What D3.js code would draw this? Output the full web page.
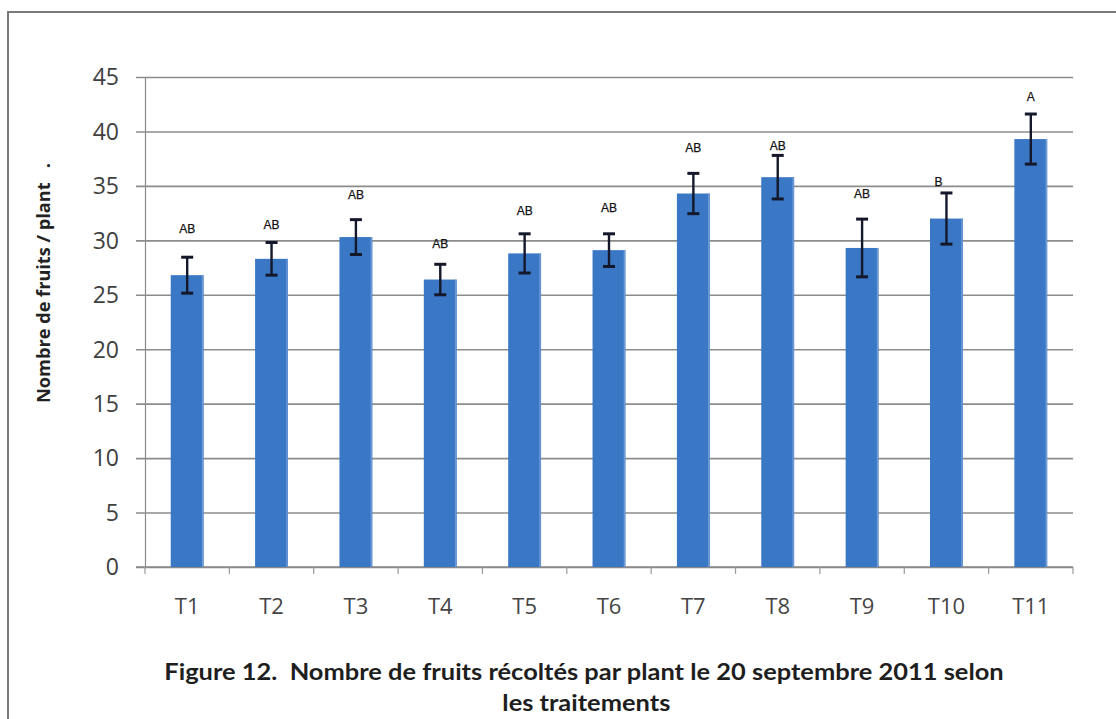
<!DOCTYPE html>
<html>
<head>
<meta charset="utf-8">
<script src="https://cdn.jsdelivr.net/npm/d3@7"></script>
<style>
  html, body { margin: 0; padding: 0; background: #fff; }
  svg { display: block; }
</style>
</head>
<body>
<svg id="chart" width="1116" height="719"></svg>
<script>
// ---- data ----
const categories = ["T1","T2","T3","T4","T5","T6","T7","T8","T9","T10","T11"];
const means      = [26.8, 28.3, 30.3, 26.4, 28.8, 29.1, 34.3, 35.8, 29.3, 32.0, 39.3];
const errors     = [1.65, 1.5, 1.6, 1.4, 1.8, 1.5, 1.85, 2.0, 2.65, 2.35, 2.3];
const letters    = ["AB","AB","AB","AB","AB","AB","AB","AB","AB","B","A"];
const letterPos  = [31.1, 31.4, 34.2, 29.7, 32.7, 33.0, 38.5, 38.7, 34.3, 35.4, 43.2];
const yTicks     = [0, 5, 10, 15, 20, 25, 30, 35, 40, 45];
const yTitle     = "Nombre de fruits / plant   .";
const titleLines = ["Figure 12.  Nombre de fruits récoltés par plant le 20 septembre 2011 selon", "les traitements"];

(function () {
// ---- layout ----
const svg = d3.select("#chart");
const pLeft = 145, pRight = 1073, pTop = 77, pBottom = 567;

const x = d3.scaleBand().domain(categories).range([pLeft, pRight]).paddingInner(0.61).paddingOuter(0.305);
const y = d3.scaleLinear().domain([0, 45]).range([pBottom, pTop]);

// outer frame
svg.append("path").attr("d", `M8,719 L8,12 L1116,12`)
  .attr("fill", "none").attr("stroke", "#7a7a7a").attr("stroke-width", 2);

// gridlines + y axis
const yAxis = d3.axisLeft(y).tickValues(yTicks).tickSize(-(pRight - pLeft)).tickPadding(16).tickSizeOuter(0);
const gy = svg.append("g").attr("transform", `translate(${pLeft},0)`).call(yAxis);
gy.select(".domain").attr("stroke", "#8a8a8a").attr("stroke-width", 1.2);
gy.selectAll(".tick line").attr("stroke", "#8c8c8c").attr("stroke-width", 1.6).attr("x1", -9);
gy.selectAll(".tick text")
  .attr("font-family", "'Open Sans', sans-serif").attr("font-size", 23)
  .attr("fill", "#404040").attr("x", -26).attr("dy", "0.34em");

// x axis
const step = x.step();
const bounds = d3.range(categories.length + 1).map(i => pLeft + i * step);
svg.append("line").attr("x1", pLeft - 9).attr("x2", pRight).attr("y1", y(0)).attr("y2", y(0))
  .attr("stroke", "#8a8a8a").attr("stroke-width", 1.6);
svg.selectAll(".xtick").data(bounds).enter().append("line")
  .attr("x1", d => d).attr("x2", d => d).attr("y1", y(0)).attr("y2", y(0) + 7)
  .attr("stroke", "#9a9a9a").attr("stroke-width", 1.2);
svg.selectAll(".xlab").data(categories).enter().append("text")
  .attr("x", d => x(d) + x.bandwidth() / 2).attr("y", 614)
  .attr("text-anchor", "middle")
  .attr("font-family", "'Open Sans', sans-serif").attr("font-size", 22)
  .attr("fill", "#454545").text(d => d);

// bars
const rows = categories.map((c, i) => ({c, m: means[i], e: errors[i], l: letters[i], lp: letterPos[i]}));
svg.selectAll(".bar").data(rows).enter().append("rect")
  .attr("x", d => x(d.c)).attr("width", x.bandwidth())
  .attr("y", d => y(d.m)).attr("height", d => y(0) - y(d.m))
  .attr("fill", "#3a77c5");
svg.selectAll(".barEdge").data(rows).enter().append("line")
  .attr("x1", d => x(d.c) + x.bandwidth() - 1).attr("x2", d => x(d.c) + x.bandwidth() - 1)
  .attr("y1", d => y(d.m)).attr("y2", y(0))
  .attr("stroke", "#6f9bd6").attr("stroke-width", 1.5);

// error bars
const cap = 6;
const eb = svg.selectAll(".err").data(rows).enter().append("g")
  .attr("stroke", "#14182a").attr("stroke-width", 2.4);
eb.append("line").attr("x1", d => x(d.c) + x.bandwidth() / 2).attr("x2", d => x(d.c) + x.bandwidth() / 2)
  .attr("y1", d => y(d.m + d.e)).attr("y2", d => y(d.m - d.e));
eb.append("line").attr("x1", d => x(d.c) + x.bandwidth() / 2 - cap).attr("x2", d => x(d.c) + x.bandwidth() / 2 + cap)
  .attr("y1", d => y(d.m + d.e)).attr("y2", d => y(d.m + d.e)).attr("stroke-width", 3);
eb.append("line").attr("x1", d => x(d.c) + x.bandwidth() / 2 - cap).attr("x2", d => x(d.c) + x.bandwidth() / 2 + cap)
  .attr("y1", d => y(d.m - d.e)).attr("y2", d => y(d.m - d.e)).attr("stroke-width", 3);

// letters
svg.selectAll(".let").data(rows).enter().append("text")
  .attr("x", d => x(d.c) + x.bandwidth() / 2 + (d.l === "B" ? -8 : 0)).attr("y", d => y(d.lp))
  .attr("dy", "0.35em").attr("text-anchor", "middle")
  .attr("font-family", "'Liberation Sans', Arial, sans-serif").attr("font-size", 12)
  .attr("fill", "#111").attr("stroke", "#111").attr("stroke-width", 0.25).text(d => d.l);

// y title (fitted to the reference's span)
const ytG = svg.append("g").attr("transform", `translate(50,283) rotate(-90)`);
const yt = ytG.append("text")
  .attr("text-anchor", "middle").attr("xml:space", "preserve")
  .attr("font-family", "'Open Sans', sans-serif").attr("font-weight", "bold")
  .attr("font-size", 17).attr("fill", "#222").text(yTitle);
const ytw = yt.node().getComputedTextLength();
yt.attr("transform", `scale(${240 / ytw},1)`);

// chart title (condensed like Calibri)
const tg = svg.append("g").attr("transform", "translate(584,0)");
const t1 = tg.append("text").attr("x", 0).attr("y", 680).attr("text-anchor", "middle")
  .attr("font-family", "Lato, sans-serif").attr("font-weight", "bold")
  .attr("font-size", 22).attr("fill", "#1e1e1e").attr("xml:space", "preserve").text(titleLines[0]);
const sx = 840 / t1.node().getComputedTextLength();
tg.append("text").attr("x", 2).attr("y", 711).attr("text-anchor", "middle")
  .attr("font-family", "Lato, sans-serif").attr("font-weight", "bold")
  .attr("font-size", 22).attr("fill", "#1e1e1e").text(titleLines[1]);
tg.attr("transform", `translate(584,0) scale(${sx},1)`);
})();
</script>
</body>
</html>
